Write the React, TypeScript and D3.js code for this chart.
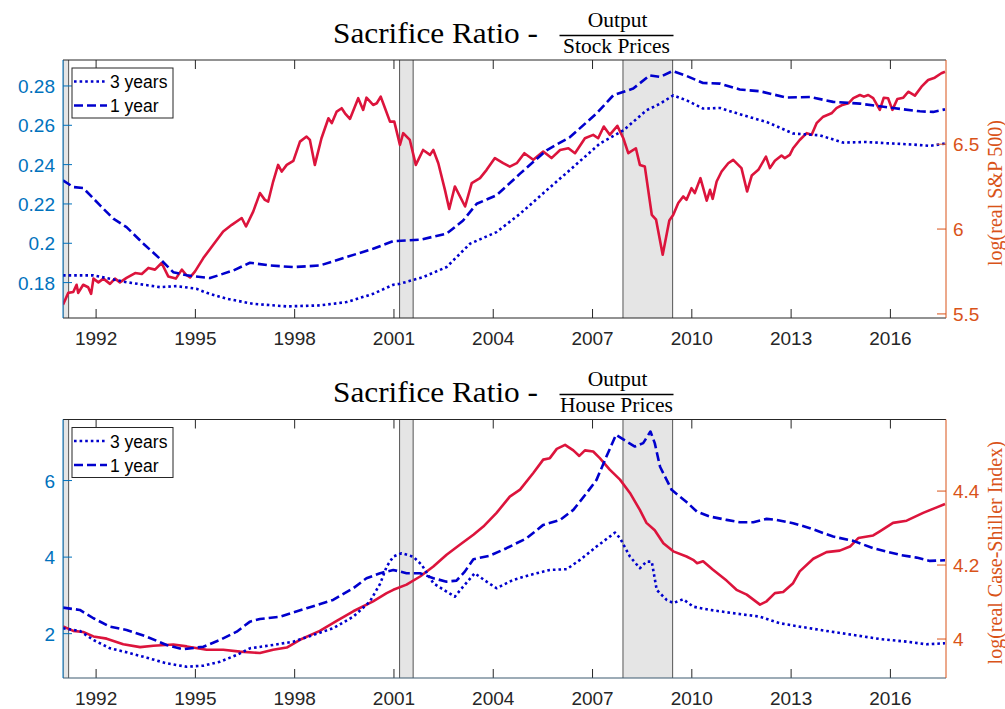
import React from "react";
import * as d3 from "d3";

// ---------- shared axis data ----------
const YEAR_DOMAIN: [number, number] = [1991.0, 2017.68];
const X_TICKS = [1992, 1995, 1998, 2001, 2004, 2007, 2010, 2013, 2016];
const RECESSIONS: [number, number][] = [
  [1991.0, 1991.17],
  [2001.17, 2001.58],
  [2007.92, 2009.42],
];
const LEGEND_LABELS = ["3 years", "1 year"];

// ---------- panel 1: stock prices ----------
const STOCK_LEFT_DOMAIN: [number, number] = [0.162, 0.2932];
const STOCK_LEFT_TICKS = [0.18, 0.2, 0.22, 0.24, 0.26, 0.28];
const STOCK_RIGHT_DOMAIN: [number, number] = [5.476, 6.996];
const STOCK_RIGHT_TICKS = [5.5, 6, 6.5];

const stock3y: [number, number][] = [
  [1991.0, 0.1837], [1991.92, 0.1837], [1992.92, 0.1802], [1993.93, 0.1777], [1994.43, 0.1782],
  [1995.03, 0.1769], [1995.34, 0.1748], [1995.94, 0.1718], [1996.75, 0.1692], [1997.76, 0.1679],
  [1998.76, 0.1684], [1999.57, 0.1701], [2000.37, 0.1743], [2000.98, 0.1789], [2001.18, 0.1794],
  [2001.88, 0.1828], [2002.59, 0.1879], [2003.3, 0.1998], [2004.1, 0.2057], [2004.81, 0.215],
  [2005.61, 0.2269], [2006.42, 0.2388], [2007.22, 0.2507], [2007.93, 0.2574], [2008.63, 0.2676],
  [2009.04, 0.271], [2009.44, 0.2752], [2009.84, 0.2727], [2010.34, 0.2685], [2010.85, 0.2688],
  [2011.55, 0.2651], [2012.26, 0.2617], [2013.06, 0.2558], [2013.87, 0.2549], [2014.57, 0.2512],
  [2015.28, 0.2515], [2016.08, 0.2507], [2016.69, 0.2502], [2017.19, 0.2495], [2017.65, 0.2507],
];

const stock1y: [number, number][] = [
  [1991.0, 0.232], [1991.31, 0.2286], [1991.61, 0.2281], [1992.12, 0.2193], [1992.52, 0.2125],
  [1992.92, 0.2082], [1993.43, 0.1998], [1993.93, 0.1921], [1994.33, 0.1853], [1994.74, 0.1837],
  [1995.44, 0.1823], [1996.15, 0.1862], [1996.65, 0.1901], [1997.25, 0.1887], [1997.96, 0.1879],
  [1998.76, 0.1887], [1999.57, 0.193], [2000.37, 0.1972], [2000.98, 0.2011], [2001.79, 0.2018],
  [2002.59, 0.2049], [2003.09, 0.2116], [2003.5, 0.2201], [2004.1, 0.2244], [2004.81, 0.2354],
  [2005.61, 0.2473], [2006.32, 0.254], [2007.12, 0.266], [2007.63, 0.2753], [2008.23, 0.2787],
  [2008.73, 0.2854], [2009.04, 0.2846], [2009.42, 0.2876], [2009.84, 0.2851], [2010.34, 0.2815],
  [2010.85, 0.2812], [2011.45, 0.2782], [2012.06, 0.2773], [2012.86, 0.2741], [2013.57, 0.2744],
  [2014.27, 0.2719], [2015.08, 0.271], [2016.08, 0.2688], [2016.89, 0.2671], [2017.29, 0.2668],
  [2017.65, 0.2681],
];

const sp500: [number, number][] = [
  [1991.0, 5.555], [1991.16, 5.624], [1991.31, 5.629], [1991.41, 5.672], [1991.46, 5.624],
  [1991.61, 5.672], [1991.76, 5.657], [1991.85, 5.618], [1991.92, 5.708], [1992.07, 5.686],
  [1992.22, 5.708], [1992.42, 5.677], [1992.57, 5.708], [1992.72, 5.686], [1992.92, 5.712],
  [1993.18, 5.741], [1993.38, 5.735], [1993.58, 5.771], [1993.78, 5.761], [1993.98, 5.8],
  [1994.18, 5.721], [1994.41, 5.708], [1994.59, 5.761], [1994.72, 5.731], [1994.84, 5.715],
  [1994.99, 5.751], [1995.24, 5.829], [1995.54, 5.908], [1995.84, 5.986], [1996.1, 6.025],
  [1996.4, 6.065], [1996.53, 6.015], [1996.75, 6.104], [1996.95, 6.212], [1997.1, 6.172],
  [1997.2, 6.162], [1997.35, 6.28], [1997.5, 6.378], [1997.61, 6.339], [1997.76, 6.378],
  [1997.96, 6.402], [1998.16, 6.515], [1998.36, 6.545], [1998.46, 6.525], [1998.61, 6.378],
  [1998.81, 6.535], [1999.02, 6.653], [1999.12, 6.624], [1999.27, 6.692], [1999.42, 6.712],
  [1999.52, 6.682], [1999.67, 6.649], [1999.92, 6.771], [2000.07, 6.702], [2000.17, 6.774],
  [2000.37, 6.731], [2000.48, 6.741], [2000.6, 6.78], [2000.73, 6.712], [2000.88, 6.633],
  [2001.01, 6.633], [2001.18, 6.496], [2001.28, 6.565], [2001.48, 6.525], [2001.66, 6.378],
  [2001.88, 6.466], [2002.09, 6.437], [2002.19, 6.466], [2002.34, 6.388], [2002.54, 6.231],
  [2002.67, 6.118], [2002.84, 6.251], [2003.15, 6.133], [2003.35, 6.271], [2003.6, 6.3],
  [2003.8, 6.349], [2004.05, 6.418], [2004.3, 6.388], [2004.5, 6.368], [2004.71, 6.388],
  [2004.94, 6.447], [2005.21, 6.408], [2005.51, 6.457], [2005.76, 6.418], [2006.02, 6.466],
  [2006.27, 6.476], [2006.47, 6.447], [2006.77, 6.535], [2007.02, 6.555], [2007.17, 6.535],
  [2007.34, 6.604], [2007.52, 6.555], [2007.75, 6.608], [2007.93, 6.535], [2008.08, 6.447],
  [2008.31, 6.476], [2008.43, 6.378], [2008.58, 6.368], [2008.79, 6.084], [2008.92, 6.055],
  [2009.12, 5.849], [2009.32, 6.05], [2009.44, 6.084], [2009.59, 6.153], [2009.74, 6.192],
  [2009.84, 6.172], [2009.99, 6.241], [2010.09, 6.212], [2010.26, 6.3], [2010.45, 6.167],
  [2010.55, 6.231], [2010.63, 6.178], [2010.75, 6.28], [2010.9, 6.339], [2011.1, 6.388],
  [2011.25, 6.408], [2011.5, 6.359], [2011.67, 6.221], [2011.81, 6.315], [2012.01, 6.349],
  [2012.24, 6.427], [2012.36, 6.359], [2012.51, 6.402], [2012.71, 6.433], [2012.81, 6.418],
  [2012.96, 6.437], [2013.06, 6.476], [2013.26, 6.525], [2013.47, 6.565], [2013.62, 6.555],
  [2013.77, 6.624], [2013.97, 6.662], [2014.22, 6.682], [2014.37, 6.712], [2014.55, 6.731],
  [2014.73, 6.741], [2014.88, 6.771], [2015.08, 6.79], [2015.2, 6.78], [2015.33, 6.79],
  [2015.48, 6.771], [2015.68, 6.702], [2015.8, 6.774], [2015.93, 6.771], [2016.06, 6.702],
  [2016.21, 6.766], [2016.39, 6.774], [2016.54, 6.809], [2016.74, 6.786], [2016.94, 6.839],
  [2017.14, 6.878], [2017.34, 6.892], [2017.54, 6.918], [2017.65, 6.927],
];

// ---------- panel 2: house prices ----------
const HOUSE_LEFT_DOMAIN: [number, number] = [0.842, 7.595];
const HOUSE_LEFT_TICKS = [2, 4, 6];
const HOUSE_RIGHT_DOMAIN: [number, number] = [3.8946, 4.5935];
const HOUSE_RIGHT_TICKS = [4, 4.2, 4.4];

const house3y: [number, number][] = [
  [1991.0, 2.141], [1991.51, 2.071], [1991.92, 1.835], [1992.42, 1.618], [1992.92, 1.514],
  [1993.53, 1.373], [1994.13, 1.226], [1994.74, 1.137], [1995.24, 1.163], [1995.74, 1.268],
  [1996.25, 1.443], [1996.65, 1.618], [1997.35, 1.705], [1997.96, 1.791], [1998.56, 1.966],
  [1999.16, 2.141], [1999.77, 2.444], [2000.27, 2.837], [2000.58, 3.3], [2000.78, 3.752],
  [2000.98, 4.013], [2001.23, 4.102], [2001.58, 4.013], [2001.84, 3.796], [2002.19, 3.318],
  [2002.59, 3.098], [2002.84, 2.967], [2003.09, 3.229], [2003.44, 3.579], [2003.8, 3.359],
  [2004.1, 3.187], [2004.6, 3.404], [2005.11, 3.535], [2005.71, 3.665], [2006.22, 3.684],
  [2006.62, 3.927], [2007.12, 4.275], [2007.52, 4.536], [2007.68, 4.641], [2007.83, 4.494],
  [2008.13, 4.013], [2008.43, 3.71], [2008.63, 3.882], [2008.79, 3.882], [2008.94, 3.142],
  [2009.24, 2.881], [2009.44, 2.8], [2009.74, 2.9], [2010.04, 2.706], [2010.55, 2.62],
  [2011.05, 2.56], [2011.66, 2.489], [2012.06, 2.444], [2012.66, 2.272], [2013.27, 2.183],
  [2014.07, 2.071], [2014.88, 1.966], [2015.68, 1.861], [2016.49, 1.791], [2017.09, 1.723],
  [2017.65, 1.749],
];

const house1y: [number, number][] = [
  [1991.0, 2.68], [1991.51, 2.62], [1991.92, 2.403], [1992.42, 2.183], [1992.92, 2.097],
  [1993.53, 1.922], [1994.13, 1.705], [1994.63, 1.592], [1995.24, 1.66], [1995.74, 1.835],
  [1996.25, 2.052], [1996.65, 2.314], [1996.95, 2.384], [1997.56, 2.444], [1998.36, 2.664],
  [1999.16, 2.881], [1999.77, 3.187], [2000.17, 3.448], [2000.58, 3.579], [2000.98, 3.665],
  [2001.38, 3.579], [2001.79, 3.579], [2002.19, 3.448], [2002.59, 3.359], [2002.89, 3.386],
  [2003.14, 3.621], [2003.4, 3.945], [2003.9, 4.039], [2004.4, 4.233], [2005.01, 4.494],
  [2005.51, 4.842], [2006.02, 4.973], [2006.42, 5.234], [2006.82, 5.671], [2007.12, 6.018],
  [2007.42, 6.627], [2007.71, 7.195], [2008.03, 7.02], [2008.28, 6.889], [2008.53, 6.978],
  [2008.75, 7.281], [2008.88, 6.978], [2009.04, 6.36], [2009.39, 5.757], [2009.84, 5.44],
  [2010.15, 5.19], [2010.55, 5.059], [2011.05, 4.973], [2011.45, 4.912], [2011.86, 4.912],
  [2012.26, 4.999], [2012.56, 4.973], [2013.06, 4.886], [2013.57, 4.756], [2014.27, 4.536],
  [2014.88, 4.424], [2015.48, 4.233], [2016.29, 4.058], [2016.79, 3.987], [2017.19, 3.901],
  [2017.65, 3.919],
];

const caseShiller: [number, number][] = [
  [1991.0, 4.034], [1991.31, 4.022], [1991.61, 4.019], [1991.92, 4.007], [1992.32, 4.001],
  [1992.82, 3.986], [1993.33, 3.978], [1993.73, 3.982], [1994.33, 3.985], [1994.74, 3.98],
  [1995.34, 3.971], [1995.84, 3.971], [1996.35, 3.966], [1996.95, 3.962], [1997.35, 3.971],
  [1997.76, 3.977], [1998.16, 3.998], [1998.76, 4.022], [1999.27, 4.049], [1999.77, 4.075],
  [2000.37, 4.102], [2000.78, 4.124], [2000.98, 4.133], [2001.38, 4.147], [2001.79, 4.169],
  [2002.19, 4.196], [2002.59, 4.228], [2002.99, 4.255], [2003.4, 4.282], [2003.7, 4.304],
  [2004.1, 4.341], [2004.5, 4.385], [2004.81, 4.404], [2005.21, 4.449], [2005.51, 4.485],
  [2005.71, 4.489], [2005.92, 4.514], [2006.17, 4.525], [2006.42, 4.51], [2006.6, 4.495],
  [2006.77, 4.51], [2007.02, 4.507], [2007.22, 4.489], [2007.52, 4.458], [2007.83, 4.431],
  [2008.13, 4.395], [2008.43, 4.349], [2008.63, 4.314], [2008.88, 4.294], [2009.14, 4.259],
  [2009.44, 4.237], [2009.84, 4.223], [2010.04, 4.214], [2010.16, 4.205], [2010.34, 4.21],
  [2010.64, 4.187], [2011.05, 4.158], [2011.35, 4.133], [2011.66, 4.12], [2012.06, 4.093],
  [2012.26, 4.102], [2012.51, 4.124], [2012.76, 4.127], [2013.06, 4.151], [2013.26, 4.183],
  [2013.67, 4.217], [2014.07, 4.235], [2014.47, 4.239], [2014.78, 4.25], [2015.03, 4.273],
  [2015.48, 4.28], [2015.68, 4.291], [2016.08, 4.314], [2016.49, 4.32], [2016.99, 4.341],
  [2017.4, 4.356], [2017.65, 4.365],
];

// ---------- style ----------
const BLUE_AX = "#0072BD";
const ORANGE_AX = "#D95319";
const RED_LINE = "#DC143C";
const BLUE_LINE = "#0000CD";
const DARK = "#262626";
const SANS = "'Liberation Sans', Arial, Helvetica, sans-serif";
const SERIF = "'Liberation Serif', 'Times New Roman', serif";

const X0 = 63;
const X1 = 946;
const TICK = 9;

type PanelProps = {
  id: string;
  top: number;
  bottom: number;
  titleY: number;
  denominator: string;
  rightLabel: string;
  leftDomain: [number, number];
  leftTicks: number[];
  rightDomain: [number, number];
  rightTicks: number[];
  s3: [number, number][];
  s1: [number, number][];
  red: [number, number][];
  bottomColor: string;
};

function Panel(p: PanelProps) {
  const xs = d3.scaleLinear().domain(YEAR_DOMAIN).range([X0, X1]);
  const yl = d3.scaleLinear().domain(p.leftDomain).range([p.bottom, p.top]);
  const yr = d3.scaleLinear().domain(p.rightDomain).range([p.bottom, p.top]);
  const lineL = d3.line<[number, number]>().x((d) => xs(d[0])).y((d) => yl(d[1]));
  const lineR = d3.line<[number, number]>().x((d) => xs(d[0])).y((d) => yr(d[1]));
  const clip = `clip-${p.id}`;
  const fracX = 616.5;
  const legX = 72;
  const legY = p.top + 8;
  return (
    <g>
      <defs>
        <clipPath id={clip}>
          <rect x={X0} y={p.top} width={X1 - X0} height={p.bottom - p.top} />
        </clipPath>
      </defs>
      {/* title */}
      <text
        x={333}
        y={p.titleY}
        fontFamily={SERIF}
        fontSize={29.5}
        fill="#000"
        textLength={205}
        lengthAdjust="spacingAndGlyphs"
      >
        Sacrifice Ratio -
      </text>
      <text x={fracX + 1} y={p.titleY - 16} fontFamily={SERIF} fontSize={21.5} textAnchor="middle" fill="#000">
        Output
      </text>
      <line x1={fracX - 57} x2={fracX + 57} y1={p.titleY - 7.5} y2={p.titleY - 7.5} stroke="#000" strokeWidth={1.3} />
      <text x={fracX} y={p.titleY + 10} fontFamily={SERIF} fontSize={21.5} textAnchor="middle" fill="#000">
        {p.denominator}
      </text>

      {/* plot background */}
      <rect x={X0} y={p.top} width={X1 - X0} height={p.bottom - p.top} fill="#fff" />

      {/* recession bars */}
      <g clipPath={`url(#${clip})`}>
        {RECESSIONS.map((r, i) => (
          <g key={i}>
            <rect x={xs(r[0])} y={p.top} width={xs(r[1]) - xs(r[0])} height={p.bottom - p.top} fill="#e5e5e5" />
            <line x1={xs(r[0])} x2={xs(r[0])} y1={p.top} y2={p.bottom} stroke="#555" strokeWidth={1} />
            <line x1={xs(r[1])} x2={xs(r[1])} y1={p.top} y2={p.bottom} stroke="#555" strokeWidth={1} />
          </g>
        ))}
      </g>

      {/* x ticks */}
      {X_TICKS.map((t) => (
        <g key={t}>
          <line x1={xs(t)} x2={xs(t)} y1={p.bottom} y2={p.bottom - TICK} stroke={DARK} strokeWidth={1} />
          <line x1={xs(t)} x2={xs(t)} y1={p.top} y2={p.top + TICK} stroke={DARK} strokeWidth={1} />
          <text x={xs(t)} y={p.bottom + 27} textAnchor="middle" fontFamily={SANS} fontSize={19} fill={DARK}>
            {t}
          </text>
        </g>
      ))}

      {/* data lines */}
      <g clipPath={`url(#${clip})`} fill="none" strokeLinejoin="round">
        <path d={lineR(p.red) || ""} stroke={RED_LINE} strokeWidth={2.6} />
        <path d={lineL(p.s3) || ""} stroke={BLUE_LINE} strokeWidth={2.6} strokeDasharray="2.6,3" />
        <path d={lineL(p.s1) || ""} stroke={BLUE_LINE} strokeWidth={2.6} strokeDasharray="9,4" />
      </g>

      {/* box */}
      <line x1={X0} x2={X1} y1={p.top} y2={p.top} stroke={DARK} strokeWidth={1} />
      <line x1={X0} x2={X1} y1={p.bottom} y2={p.bottom} stroke={p.bottomColor} strokeWidth={1.2} />
      <line x1={X0} x2={X0} y1={p.top} y2={p.bottom} stroke={BLUE_AX} strokeWidth={1} />
      <line x1={X1} x2={X1} y1={p.top} y2={p.bottom} stroke={ORANGE_AX} strokeWidth={1} />

      {/* left ticks */}
      {p.leftTicks.map((t) => (
        <g key={t}>
          <line x1={X0} x2={X0 + TICK} y1={yl(t)} y2={yl(t)} stroke={BLUE_AX} strokeWidth={1} />
          <text x={X0 - 8} y={yl(t) + 7} textAnchor="end" fontFamily={SANS} fontSize={19} fill={BLUE_AX}>
            {String(t)}
          </text>
        </g>
      ))}
      {/* right ticks */}
      {p.rightTicks.map((t) => (
        <g key={t}>
          <line x1={X1} x2={X1 - TICK} y1={yr(t)} y2={yr(t)} stroke={ORANGE_AX} strokeWidth={1} />
          <text x={X1 + 7} y={yr(t) + 7} textAnchor="start" fontFamily={SANS} fontSize={19} fill={ORANGE_AX}>
            {String(t)}
          </text>
        </g>
      ))}
      <text
        transform={`translate(${995},${(p.top + p.bottom) / 2 + 4}) rotate(-90)`}
        textAnchor="middle"
        dominantBaseline="central"
        fontFamily={SERIF}
        fontSize={20}
        fill={ORANGE_AX}
      >
        {p.rightLabel}
      </text>

      {/* legend */}
      <rect x={legX} y={legY} width={101} height={50} fill="#fff" stroke={DARK} strokeWidth={1} />
      <line x1={legX + 2} x2={legX + 35} y1={legY + 13.5} y2={legY + 13.5} stroke={BLUE_LINE} strokeWidth={2.6} strokeDasharray="2.6,3" />
      <line x1={legX + 2} x2={legX + 35} y1={legY + 37.5} y2={legY + 37.5} stroke={BLUE_LINE} strokeWidth={2.6} strokeDasharray="9,4" />
      <text x={legX + 38} y={legY + 20} fontFamily={SANS} fontSize={17.5} fill="#000">
        {LEGEND_LABELS[0]}
      </text>
      <text x={legX + 38} y={legY + 44} fontFamily={SANS} fontSize={17.5} fill="#000">
        {LEGEND_LABELS[1]}
      </text>
    </g>
  );
}

export default function App() {
  return (
    <svg
      width={1005}
      height={709}
      style={{ position: "absolute", left: 0, top: 0, background: "#fff" }}
    >
      <rect x={0} y={0} width={1005} height={709} fill="#fff" />
      <Panel
        id="stock"
        top={60}
        bottom={318}
        titleY={43}
        denominator="Stock Prices"
        rightLabel="log(real S&P 500)"
        leftDomain={STOCK_LEFT_DOMAIN}
        leftTicks={STOCK_LEFT_TICKS}
        rightDomain={STOCK_RIGHT_DOMAIN}
        rightTicks={STOCK_RIGHT_TICKS}
        s3={stock3y}
        s1={stock1y}
        red={sp500}
        bottomColor={DARK}
      />
      <Panel
        id="house"
        top={419.5}
        bottom={678}
        titleY={402}
        denominator="House Prices"
        rightLabel="log(real Case-Shiller Index)"
        leftDomain={HOUSE_LEFT_DOMAIN}
        leftTicks={HOUSE_LEFT_TICKS}
        rightDomain={HOUSE_RIGHT_DOMAIN}
        rightTicks={HOUSE_RIGHT_TICKS}
        s3={house3y}
        s1={house1y}
        red={caseShiller}
        bottomColor="#3d5a70"
      />
    </svg>
  );
}
